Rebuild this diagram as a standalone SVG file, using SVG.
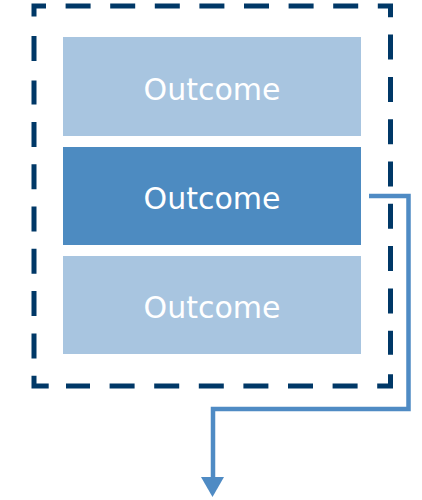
<svg xmlns="http://www.w3.org/2000/svg" width="422" height="500" viewBox="0 0 422 500">
<style>
.frame{fill:none;stroke:#003867;stroke-width:5;stroke-linejoin:miter}
.light{fill:#a8c5e0}
.dark{fill:#4d8bc1}
.lbl{font-family:"DejaVu Sans",Verdana,sans-serif;font-size:30px;fill:#ffffff;text-anchor:middle}
.conn{fill:none;stroke:#4f8bc4;stroke-width:4.5}
</style>
<rect width="422" height="500" fill="#ffffff"/>
<path class="frame" d="M34,6 H390.5 V386 H34 Z" stroke-dasharray="12 19.6 25 19.6 25 19.6 25 19.6 25 19.6 25 19.6 25 19.6 25 19.6 24 17.3 25 17.3 25 17.3 25 17.3 25 17.3 25 17.3 25 17.3 25 17.3 24 19.6 25 19.6 25 19.6 25 19.6 25 19.6 25 19.6 25 19.6 25 19.6 24 17.3 25 17.3 25 17.3 25 17.3 25 17.3 25 17.3 25 17.3 25 17.3 12 0"/>
<g id="node1"><rect class="light" x="63" y="37" width="298" height="99"/><text class="lbl" x="212" y="100">Outcome</text></g>
<g id="node2"><rect class="dark" x="63" y="147" width="298" height="98"/><text class="lbl" x="212" y="209">Outcome</text></g>
<g id="node3"><rect class="light" x="63" y="256" width="298" height="98"/><text class="lbl" x="212" y="318">Outcome</text></g>
<g id="connectors">
<path class="conn" d="M369,196 H408.5 V409 H213 V478"/>
<polygon points="201,477 224,477 212.5,497" fill="#4f8bc4"/>
</g>
</svg>
